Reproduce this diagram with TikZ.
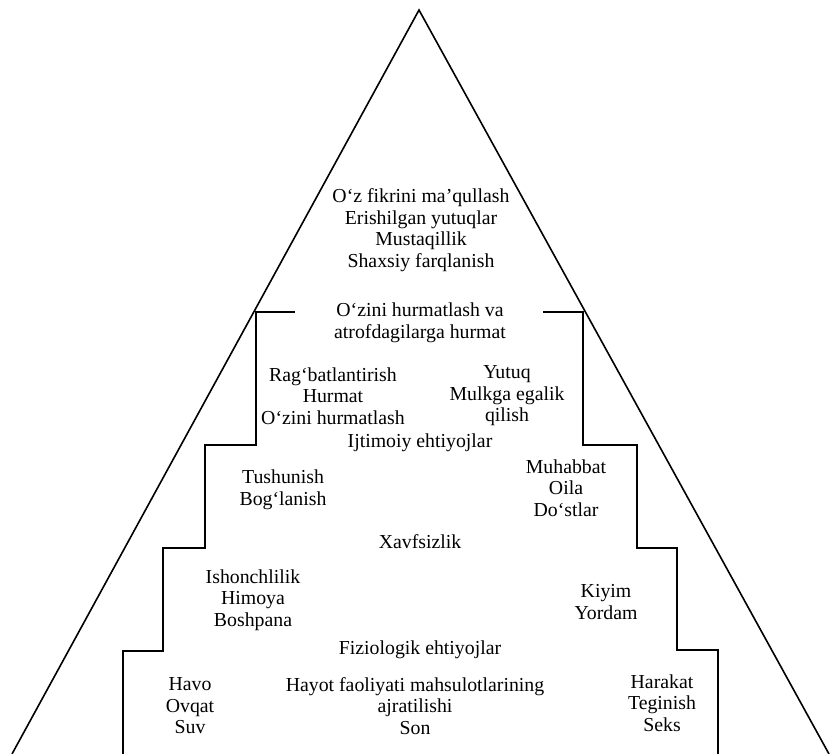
\documentclass[tikz,border=0pt]{standalone}
\usepackage{fontspec}
\setmainfont{Liberation Serif}
\usepackage{tikz}
\usetikzlibrary{positioning, calc}

\begin{document}
\begin{tikzpicture}[
    x=1pt, y=-1pt,
    lbl/.style={align=center, inner sep=0pt, font=\fontsize{19.8}{21.5}\selectfont},
    side/.style={line width=1.6pt},
    stair/.style={line width=2pt, line join=miter}
]
    \useasboundingbox (0,0) rectangle (830,754);

    % outer triangle
    \coordinate (apex) at (419,10);
    \coordinate (bl) at (12,754);
    \coordinate (br) at (829,754);
    \draw[side] (bl) -- (apex) -- (br);

    % stairs
    \draw[stair] (123,754) -- (123,651) -- (163,651) -- (163,548) -- (205,548)
        -- (205,445) -- (256,445) -- (256,312) -- (295,312);
    \draw[stair] (543,312) -- (583,312) -- (583,445) -- (637,445) -- (637,548)
        -- (677,548) -- (677,650) -- (718,650) -- (718,754);

    % top level
    \node[lbl] (selfreal) at (421,230) {O‘z fikrini ma’qullash\\Erishilgan yutuqlar\\Mustaqillik\\Shaxsiy farqlanish};
    \node[lbl] (esteem) at (420,323) {O‘zini hurmatlash va\\atrofdagilarga hurmat};
    \node[lbl] (esteemL) at (333,396) {Rag‘batlantirish\\Hurmat\\O‘zini hurmatlash};
    \node[lbl] (esteemR) at (507,396) {Yutuq\\Mulkga egalik\\qilish};

    % social
    \node[lbl] (social) at (420,443) {Ijtimoiy ehtiyojlar};
    \node[lbl] (socialL) at (283,490) {Tushunish\\Bog‘lanish};
    \node[lbl] (socialR) at (566,488) {Muhabbat\\Oila\\Do‘stlar};

    % safety
    \node[lbl] (safety) at (420,542) {Xavfsizlik};
    \node[lbl] (safetyL) at (253,600) {Ishonchlilik\\Himoya\\Boshpana};
    \node[lbl] (safetyR) at (606,602) {Kiyim\\Yordam};

    % physiological
    \node[lbl] (physio) at (420,650) {Fiziologik ehtiyojlar};
    \node[lbl] (physioL) at (190,706) {Havo\\Ovqat\\Suv};
    \node[lbl] (physioM) at (415,706) {Hayot faoliyati mahsulotlarining\\ajratilishi\\Son};
    \node[lbl] (physioR) at (662,703) {Harakat\\Teginish\\Seks};
\end{tikzpicture}
\end{document}
